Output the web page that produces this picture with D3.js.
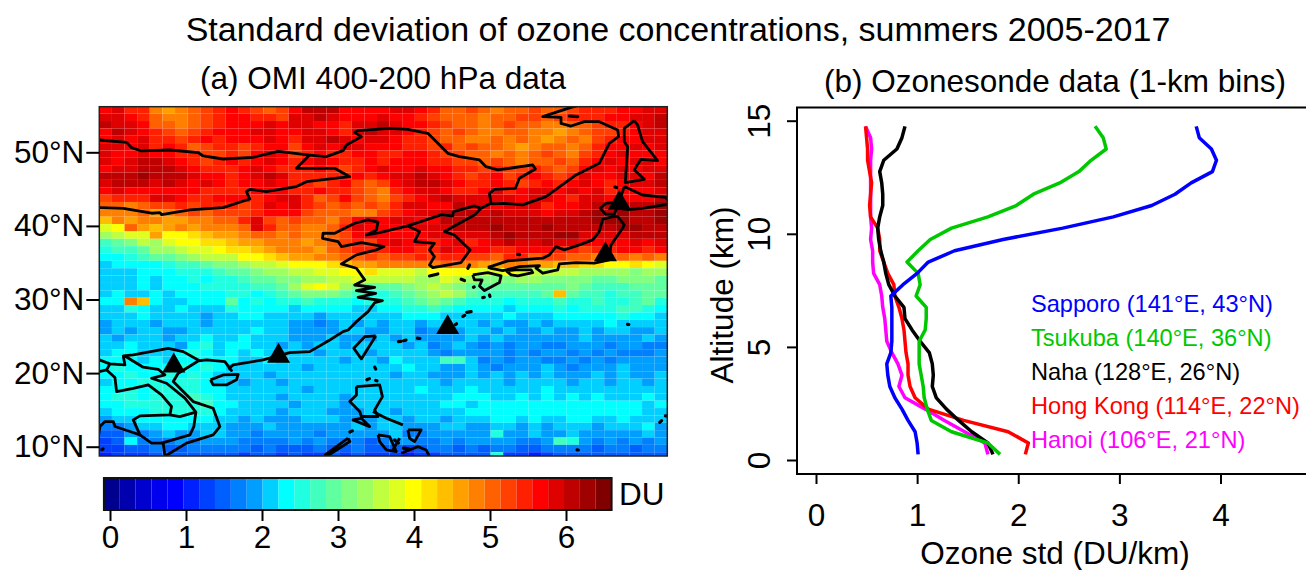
<!DOCTYPE html>
<html>
<head>
<meta charset="utf-8">
<script src="https://cdn.jsdelivr.net/npm/d3@7"></script>
<style>
  html, body { margin: 0; padding: 0; background: #fff; overflow: hidden; }
  svg { display: block; }
  text { font-family: "Liberation Sans", Arial, sans-serif; fill: #000; }
  .tick text { font-family: "Liberation Sans", Arial, sans-serif; }
</style>
</head>
<body>
<svg id="chart" width="1306" height="570"></svg>
<script>
// colour bar bins (32 levels), low to high
var jetColors = ["#00008F","#0000AF","#0000CF","#0000EF","#0000FF","#0020FF","#0040FF","#0060FF",
  "#0080FF","#009FFF","#00CFFF","#00FFFF","#20FFDF","#40FFBF","#60FF9F","#80FF80",
  "#9FFF60","#BFFF40","#DFFF20","#FFFF00","#FFDF00","#FFBF00","#FF9F00","#FF8000",
  "#FF6000","#FF4000","#FF2000","#FF0000","#DF0000","#BF0000","#9F0000","#800000"];
var duMin = -0.08, duMax = 6.6;
var duTicks = [0, 1, 2, 3, 4, 5, 6];

// OMI std, 1 deg cells, north to south, west to east.
// each char is the colour bar bin the cell falls in
var binCodes = "0123456789abcdefghijklmnopqrstuv";
var omiRows = [
"rsqqn mnopq rqpop rtttr rrrss rqoop onoop oopqq qrrss",
"ssrqo nnopq rrqqp sstsr rrsrr qpooo noopp opqqq rrsst",
"tssro onopq rrrsr ssrrq sstsr rqpoo nopoo nnoop qqrst",
"rtsrq popqr rrssr rssrq stssr qpopo nnoon nmnop pqrss",
"rsrsq qpqrq rrrsr qssts rssrq qpoon nonon mnonp qrrss",
"ssrsq rqopq qpqrr prsrs srrrq qpqop oonmn oonoq rrsrs",
"srrsr rqqpp qprsr pqrqq rrqqr rqppo onono ponpq rsrrr",
"srstt srqpq rqrsr qrsrq qrqrr rqqpp opono opoqr srssr",
"rsstt tsrqq qrsrq qqrqp qrsrr srrqq pqppq poprs rsrss",
"tttut ttsrr qrsts qqqqq rqrss tsrqp qrpqr qpqsr rssrt",
"sttts tsrsr qrrsr qqpqr poprs ttsrq qrqpq rqrsr qrsst",
"rsrrr rrrqq qqrrr qqrqq ponqr ssrqq rsqrs srsrs qrrrs",
"pqqqs srqqr rrqrs sqopr ponpq rstss sssrs srqss rrrrt",
"oonop pqpqq qpqsr sqpop opoqs srrts srsss qrrst ttttu",
"nnnom nopop ppqrr rpooo nnpqr ssttt stsss rsstu tuttu",
"lnmnn mmnno oqspo poonp rsrss rrttt ttttt ttttu uuttu",
"ijoml mnmnn nosqo onnoq srrrr ssstt tuttt utttt tuutt",
"ghiim jjklm mnoon onnop rsrrr rssss stutt tuuss ssttt",
"defhg ijjkk lmmnn nmnop qprsr rqrsq rstss tssrr rrsrs",
"cddeg ghiij kklmn nnmop qqqrr qqsrr rqqrr rqqpq qrrqr",
"bbcde efghh hjjkl mmnno opopp qpqqp poqqo ppoon oonon",
"abbbb cddef fghhi jjjkl mmnnn nnonn mmnnm mllkk jjkji",
"aaabb bcccd eefgg hhiij jkiii hjjjj iijih hhhgg ggfgg",
"aaaba bbcbc cdeef fgghh ihhhh ggihg fffgg ffffe efffe",
"aaaba bbbcc ccdde gijig feeef ghgfe eeeee eefed ddeee",
"abaab abbbb ccbcd efffe dccde fghge ddddd eledd cddee",
"bbnlb aabbb ebcbc cdccc bcccd efedc ccbcc cdccd ccdec",
"aacba abaaa cbbbb abbbb aabbc cdcbb bbabb bcbcc cddcb",
"aaaba aaa9a abbaa aa9aa aaaab bbaaa aabaa abbbb bcbba",
"9aaa9 aaa9a aaaaa 9989a 9a9aa 9aaaa 9a99a 9aaaa baaaa",
"9a9aa 99aaa aabaa 9999a a99aa 8999a a9a99 a99a9 aa99a",
"a9aaa 9aaba abaaa 999a9 99a9a 9999a 9a999 999a9 999a9",
"aabaa a9bca bbaa9 a9aa9 aaaa9 a89a9 89899 88999 89988",
"abbaa abcba babaa aa9aa a9aaa a9899 99898 99898 98889",
"bbbab abbbb baaba aaaa9 aa9ba aadda 89899 88989 89999",
"bcbbb bcbcb aaaaa a9aaa aaaab aa99a 98999 a9899 9a999",
"bbcbb cbcba aaa9a aaaaa aaa9a a999a 9a9a9 a999a 9a99a",
"abbcc bccba a9aa9 aaaaa aaaaa aa9aa aa9aa aa9aa 9aa9a",
"bbcbc cccbb aaaaa a9aaa aaaaa baaab aaaaa baaaa aaaaa",
"bccbc ccdcb aaaa9 aaaa9 aaaaa aaabb baaba babab aaaba",
"bbccc cccdb baaaa 9aaa9 aaaaa aabba bbbbb bbbbb bbbab",
"abbbc ccccb aaaa9 aaa99 9aa9a aaaab bbbbb bbbbb bbbaa",
"9aabb bbbba a9a99 9aaa9 99aa9 aa9aa abbab aabba abaaa",
"889aa bbaaa 999a9 99999 a9aa9 99aa9 9aa9a 9aaa9 aaab9",
"77989 a99aa 99899 99899 999a8 89999 9c99a 99a99 999a9",
"67b88 89899 98888 98988 87899 88989 99988 9dc98 98989",
"66778 77888 88787 77877 87776 78878 78877 88887 88788",
"56667 77777 76776 76676 76665 66777 7c665 67777 77777"
];

// coast and border lines, [lon, lat]
var borderNorth = [[100,51.67],[102.16,51.35],[102.56,50.63],[103.35,50.18],[105.59,50.31],[107.84,49.95],[108.23,49.5],[109.81,49.09],[112.19,49.32],[114.17,50.13],[116.67,49.63],[117.99,49.41],[119.31,50.22],[119.58,51],[120.76,52.12],[120.24,52.71],[120.5,52.94],[123,53.25],[124.44,53.12],[126.03,52.58],[127.61,49.86],[128.53,49.41],[130.12,48.96],[130.64,48.05],[131.57,47.6],[134.34,48.28],[134.55,47.73],[133.28,46.47],[132.97,45.11],[131.3,44.97],[130.91,44.43],[131.04,42.98]];
var borderMongolia = [[100,42.48],[101.9,42.39],[104.14,41.72],[104.8,41.81],[104.93,41.53],[107.18,42.17],[109.81,42.48],[111.92,43.66],[111.66,44.66],[111.92,44.97],[113.24,44.66],[115.62,45.34],[116.41,46.01],[119.84,46.69],[118.65,47.82],[115.62,47.82],[116.67,49.63]];
var coastChina = [[124.44,40],[122.2,39.09],[121.16,38.77],[121.95,39.45],[122.08,40.5],[121.29,40.81],[120.24,40.36],[118.65,39],[117.73,39],[117.68,38.32],[118.92,37.87],[119.18,37.19],[120.76,37.73],[122.56,37.19],[121.95,36.74],[120.37,36.06],[119.18,34.84],[120.37,34.25],[121.03,32.67],[120.24,31.97],[121.82,31.65],[120.37,31.2],[121.9,30.84],[120.5,30.3],[122.43,29.84],[121.82,29.57],[121.29,28.35],[120.37,26.99],[119.71,25.86],[119.31,25.64],[118.26,24.5],[116.67,22.92],[115.09,22.79],[112.98,21.79],[110.6,21.11],[110.29,20.66],[110.47,20.34],[109.95,21.56],[108.5,21.79],[107.83,21.65],[106.91,20.66],[106.25,19.98],[105.86,18.85],[107.44,16.13],[109.02,15.23],[109.55,12.74],[109.02,11.61],[106.91,10.48],[105.2,8.7]];
var borderSouthChina = [[107.97,21.65],[106.65,22.92],[105.46,23.37],[102.69,22.47],[101.9,22.33],[102.03,21.11],[100.84,21.25],[100,21.79]];
var borderLaosWest = [[100,20.21],[100.58,20.43],[100.84,21.25]];
var borderLaos = [[100.58,20.43],[101.24,19.39],[101.37,17.49],[102.69,17.94],[103.88,18.4],[104.93,17.04],[105.72,15.46],[105.59,14.32],[103.22,14.19],[102.69,13.65],[103.22,11.61],[104.14,10.48],[105.06,10.48],[105.2,8.7]];
var borderLaosVietnam = [[102.03,22.33],[103.48,20.8],[104.67,20.52],[105.2,19.75],[104.14,19.3],[105.33,18.62],[106.78,16.59],[107.65,14.69],[106.38,14.1],[105.59,14.32]];
var borderCambodia = [[107.65,14.69],[107.49,12.74],[107.18,11.61],[104.93,10.48]];
var coastThailand = [[99.8,10],[100.05,12.74],[100.45,13.42],[101.11,13.42],[101.24,12.74],[102.43,12.06],[103.22,11.61]];
var hainan = [[108.81,19.08],[109.81,19.75],[111,19.84],[110.87,19.08],[110.08,18.4],[109.02,18.4],[108.81,19.08]];
var taiwan = [[121.9,25.05],[121.03,24.96],[120.16,23.37],[120.76,21.93],[121.9,25.05]];
var luzon = [[120.37,18.17],[122.21,18.4],[122.43,16.81],[121.82,15],[122.08,14.1],[120.76,14.1],[120.63,14.78],[119.84,16.13],[120.37,17.04],[120.37,18.17]];
var luzonSouth = [[121.68,14.77],[122.74,13.86],[124.05,12.96]];
var mindoro = [[120.76,13.86],[121.42,12.73],[120.1,13.63],[120.76,13.86]];
var samar = [[124.45,12.28],[125.5,12.28],[124.98,10.69],[124.58,11.15],[124.45,12.28]];
var negros = [[122.08,11.6],[123,11.37],[123.53,9.34],[122.74,9.56],[122.21,10.7],[122.08,11.6]];
var cebu = [[123.79,11.15],[123.26,9.56]];
var mindanao = [[123.92,9.11],[125.24,10.01],[125.9,9.56],[126.17,8.6],[123.92,8.6]];
var palawan = [[119.7,11.15],[119.85,10.7],[118.2,8.9],[117.9,8.9],[119.7,11.15]];
var korea = [[124.44,40],[125.37,39.23],[124.97,37.87],[126.55,37.64],[126.16,36.74],[126.55,35.83],[126.16,34.7],[126.42,34.34],[128.66,35.02],[129.38,36.74],[128.14,38.77],[127.35,39.23],[129.72,41.49],[130.25,42.39],[130.91,42.98],[132.09,43.07],[133.55,42.85],[135.39,43.98],[137.77,46.92],[139.61,48.5],[140.41,51.22],[141.14,52.12],[141.07,53.03],[139.61,54.16],[138.43,54.16],[137.37,53.57],[136.58,53.93],[136.58,54.75],[135.13,54.84],[137.37,56.1],[138.5,56.6]];
var borderKorea = [[124.44,40],[127.08,41.49],[128,41.35],[128.06,41.94],[129.72,42.71],[130.25,42.39]];
var sakhalin = [[142.38,54.3],[141.59,53.25],[141.59,51.44],[141.86,50.77],[141.67,45.88],[143.18,46.33],[142.38,47.6],[142.91,49.05],[144.23,48.86],[143.04,51.44],[142.65,53.71],[142.38,54.3]];
var hokkaido = [[141.59,45.34],[143.04,44.2],[144.89,43.89],[145.2,42.98],[143.04,42.39],[141.9,42.2],[141,42.4],[140.8,41.6],[140.1,41.6],[139.7,42.4],[140.14,43.07],[141.2,43.3],[141.59,45.34]];
var honshu = [[130.78,34.38],[131.17,34.56],[132.36,35.24],[135.13,35.61],[135.66,36.06],[136.18,37.19],[136.84,36.74],[138.03,37.42],[139.09,38.1],[139.61,39.23],[139.88,40.9],[140.67,41.26],[141.07,41.26],[141.59,40.13],[141.46,39.68],[140.54,37.42],[140.41,35.38],[139.22,34.93],[137.77,35.02],[136.45,34.84],[136.32,34.02],[135.13,33.57],[134.6,34.25],[134.87,34.6],[133.29,34.47],[131.97,33.92],[131.04,34.24],[130.78,34.38]];
var shikoku = [[132.23,33.92],[132.63,33.34],[133.15,33.2],[134.34,33.65],[134.21,34.02],[133.02,34.02],[132.23,33.92]];
var kyushu = [[129.59,33.34],[130.78,33.65],[131.83,33.2],[131.7,32.3],[130.52,31.21],[130.12,31.84],[130.33,32.66],[129.72,32.66],[129.59,33.34]];
var coastLines = [borderNorth, borderMongolia, coastChina, borderSouthChina, borderLaosWest, borderLaos,
  borderLaosVietnam, borderCambodia, coastThailand, hainan, taiwan, luzon, luzonSouth, mindoro, samar,
  negros, cebu, mindanao, palawan, korea, borderKorea, sakhalin, hokkaido, honshu, shikoku, kyushu];

// little islands, short strokes
var islets = [
  [[126.16,33.2],[126.82,33.47]], [[129.2,34.24],[129.33,34.69]], [[128.67,32.75],[128.93,32.57]],
  [[129.64,31.66],[129.7,31.7]], [[130.38,30.26],[130.5,30.3]], [[130.91,30.62],[130.95,30.4]],
  [[133.15,36.14],[133.3,36.1]], [[129.11,28.26],[129.46,28.35]], [[128.8,27.7],[128.95,27.85]],
  [[128.2,26.6],[128.3,26.7]], [[125.2,24.75],[125.4,24.7]], [[123.7,24.28],[123.9,24.3]],
  [[124.1,24.4],[124.3,24.48]], [[141.85,26.63],[141.95,26.6]], [[137.85,9.57],[137.95,9.55]],
  [[144.4,13.3],[144.55,13.55]], [[144.85,14.2],[144.95,14.18]], [[121.82,20.8],[121.9,20.55]],
  [[121.2,19.1],[121.4,19.25]], [[121.9,19],[122,18.95]], [[119.85,12],[120.05,12.15]],
  [[100.2,9.6],[100.3,9.7]], [[137.24,54.93],[137.9,54.84]], [[140.85,45.28],[141,45.2]],
  [[123.4,10.9],[123.7,10.5]], [[124.1,9.8],[124.5,9.7]]
];

var stationNames = ["Hanoi (106°E, 21°N)", "Hong Kong (114°E, 22°N)", "Naha (128°E, 26°N)", "Tsukuba (140°E, 36°N)", "Sapporo (141°E, 43°N)"];
var stationLon = [105.9, 114.2, 127.6, 140.1, 141.2];
var stationLat = [21, 22.3, 26.2, 36.1, 43.1];
var stationColors = ["#ff00ff", "#ff0000", "#000000", "#00c800", "#0000ff"];
var legendOrder = [4, 3, 2, 1, 0];

// ozonesonde profiles, bottom to top
var altitudes = [0.25,0.75,1.25,1.75,2.25,2.75,3.25,3.75,4.25,4.75,5.25,5.75,6.25,6.75,7.25,7.75,8.25,8.75,9.25,9.75,10.25,10.75,11.25,11.75,12.25,12.75,13.25,13.75,14.25,14.75];
var hanoiStd = [1.70,1.67,1.47,1.27,1.08,0.88,0.82,0.85,0.81,0.75,0.70,0.69,0.68,0.66,0.65,0.63,0.57,0.56,0.56,0.54,0.55,0.54,0.54,0.54,0.54,0.54,0.54,0.55,0.54,0.49];
var hongKongStd = [2.07,2.10,1.90,1.46,1.11,0.98,0.93,0.91,0.91,0.89,0.88,0.87,0.85,0.82,0.78,0.77,0.71,0.67,0.63,0.63,0.61,0.54,0.53,0.54,0.55,0.53,0.51,0.51,0.50,0.49];
var nahaStd = [1.75,1.70,1.54,1.41,1.29,1.19,1.15,1.16,1.15,1.12,1.03,0.95,0.88,0.87,0.78,0.72,0.69,0.67,0.64,0.62,0.61,0.63,0.66,0.66,0.65,0.63,0.67,0.80,0.85,0.88];
var tsukubaStd = [1.82,1.70,1.34,1.14,1.10,1.07,1.06,1.04,1.02,1.02,1.02,1.08,1.09,1.09,0.99,1.03,1.01,0.90,1.01,1.13,1.34,1.70,1.98,2.15,2.41,2.60,2.72,2.87,2.84,2.76];
var sapporoStd = [1.01,1.00,0.98,0.91,0.85,0.78,0.73,0.71,0.70,0.74,0.75,0.75,0.75,0.75,0.74,0.86,1.00,1.11,1.37,1.85,2.44,2.94,3.32,3.55,3.71,3.92,3.96,3.91,3.79,3.76];
var stationStd = [hanoiStd, hongKongStd, nahaStd, tsukubaStd, sapporoStd];

var latTicks = [10, 20, 30, 40, 50];
var stdTicks = [0, 1, 2, 3, 4];
var altTicks = [0, 5, 10, 15];

var width = 1306, height = 570;
var svg = d3.select("#chart");
var fontSize = 31.5;

// titles
svg.append("text").attr("x", 678).attr("y", 41).attr("text-anchor", "middle")
  .style("font-size", "34px").text("Standard deviation of ozone concentrations, summers 2005-2017");
svg.append("text").attr("x", 383).attr("y", 89).attr("text-anchor", "middle")
  .style("font-size", fontSize + "px").text("(a) OMI 400-200 hPa data");
svg.append("text").attr("x", 1055).attr("y", 92).attr("text-anchor", "middle")
  .style("font-size", fontSize + "px").text("(b) Ozonesonde data (1-km bins)");

// ---- panel (a) map
var box = {left: 99.3, right: 667.3, top: 106.7, bottom: 456};
var lon = d3.scaleLinear().domain([100, 145]).range([box.left, box.right]);
var lat = d3.scaleLinear().domain([10, 50]).range([446.7, 152.3]);

var binWidth = (duMax - duMin) / jetColors.length;
var duColor = d3.scaleQuantize().domain([duMin, duMax]).range(jetColors);

// decode rows into cells
var cells = [];
omiRows.forEach(function(row, i) {
  var codes = row.replace(/ /g, "");
  for (var j = 0; j < 45; j++) {
    var bin = binCodes.indexOf(codes.charAt(j));
    cells.push({west: 100 + j, north: 56.25 - i, du: duMin + (bin + 0.5) * binWidth});
  }
});

svg.append("defs").append("clipPath").attr("id", "mapClip").append("rect")
  .attr("x", box.left).attr("y", box.top)
  .attr("width", box.right - box.left).attr("height", box.bottom - box.top);

var map = svg.append("g").attr("clip-path", "url(#mapClip)");

map.selectAll("rect.cell")
  .data(cells)
  .enter()
  .append("rect")
  .attr("class", "cell")
  .attr("x", d => lon(d.west))
  .attr("y", d => lat(d.north))
  .attr("width", lon(1) - lon(0))
  .attr("height", lat(0) - lat(1))
  .style("fill", d => duColor(d.du));

var coastPath = d3.line().x(d => lon(d[0])).y(d => lat(d[1]));

map.selectAll("path.coast")
  .data(coastLines)
  .enter()
  .append("path")
  .attr("class", "coast")
  .attr("d", coastPath)
  .style("fill", "none")
  .style("stroke", "#000")
  .style("stroke-width", 2.8)
  .style("stroke-linejoin", "round");

map.selectAll("path.islet")
  .data(islets)
  .enter()
  .append("path")
  .attr("class", "islet")
  .attr("d", coastPath)
  .style("fill", "none")
  .style("stroke", "#000")
  .style("stroke-width", 3.2)
  .style("stroke-linecap", "round");

// site triangles
map.selectAll("path.site")
  .data(stationLon)
  .enter()
  .append("path")
  .attr("class", "site")
  .attr("d", d3.symbol().type(d3.symbolTriangle).size(230))
  .attr("transform", (d, i) => "translate(" + lon(d) + "," + lat(stationLat[i]) + ")")
  .style("fill", "#000");

svg.append("rect")
  .attr("x", box.left).attr("y", box.top)
  .attr("width", box.right - box.left).attr("height", box.bottom - box.top)
  .style("fill", "none").style("stroke", "#222").style("stroke-width", 1.5);

// latitude axis
var latAxis = d3.axisLeft(lat)
  .tickValues(latTicks)
  .tickFormat(d => d + "°N")
  .tickSizeInner(13)
  .tickSizeOuter(0)
  .tickPadding(2);
svg.append("g")
  .attr("transform", "translate(" + box.left + ",0)")
  .call(latAxis)
  .call(g => g.select(".domain").remove())
  .call(g => g.selectAll("line").style("stroke-width", 2))
  .call(g => g.selectAll("text").style("font-size", fontSize + "px"));

// ---- colour bar
var barTop = 478, barBottom = 510;
var duScale = d3.scaleLinear().domain([0, 6]).range([110, 566]);
var barBins = jetColors.map((c, i) => duMin + i * binWidth);

svg.selectAll("rect.bar")
  .data(barBins)
  .enter()
  .append("rect")
  .attr("class", "bar")
  .attr("x", d => duScale(d))
  .attr("y", barTop)
  .attr("width", duScale(binWidth) - duScale(0))
  .attr("height", barBottom - barTop)
  .style("fill", d => duColor(d + binWidth / 2));

svg.append("rect")
  .attr("x", duScale(duMin)).attr("y", barTop)
  .attr("width", duScale(duMax) - duScale(duMin)).attr("height", barBottom - barTop)
  .style("fill", "none").style("stroke", "#111").style("stroke-width", 2);

var duAxis = d3.axisBottom(duScale)
  .tickValues(duTicks)
  .tickFormat(d3.format("d"))
  .tickSizeInner(11)
  .tickSizeOuter(0)
  .tickPadding(5);
svg.append("g")
  .attr("transform", "translate(0," + barBottom + ")")
  .call(duAxis)
  .call(g => g.select(".domain").remove())
  .call(g => g.selectAll("line").style("stroke-width", 2))
  .call(g => g.selectAll("text").style("font-size", fontSize + "px"));

svg.append("text").attr("x", 619).attr("y", 505)
  .style("font-size", fontSize + "px").text("DU");

// ---- panel (b) profiles
var plot = {left: 797, right: 1310, top: 107.5, bottom: 474};
var x = d3.scaleLinear().domain([0, 4]).range([816, 1220.5]);
var y = d3.scaleLinear().domain([0, 15]).range([460, 120.7]);

svg.append("path")
  .attr("d", d3.line()([[plot.right, plot.top], [plot.left, plot.top], [plot.left, plot.bottom], [plot.right, plot.bottom]]))
  .style("fill", "none").style("stroke", "#000").style("stroke-width", 2);

var xAxis = d3.axisBottom(x)
  .tickValues(stdTicks)
  .tickFormat(d3.format("d"))
  .tickSizeInner(10)
  .tickSizeOuter(0)
  .tickPadding(20);
svg.append("g")
  .attr("transform", "translate(0," + plot.bottom + ")")
  .call(xAxis)
  .call(g => g.select(".domain").remove())
  .call(g => g.selectAll("line").style("stroke-width", 2))
  .call(g => g.selectAll("text").style("font-size", fontSize + "px"));

var yAxis = d3.axisLeft(y)
  .tickValues(altTicks)
  .tickFormat(d3.format("d"))
  .tickSizeInner(10)
  .tickSizeOuter(0)
  .tickPadding(0);
svg.append("g")
  .attr("transform", "translate(" + plot.left + ",0)")
  .call(yAxis)
  .call(g => g.select(".domain").remove())
  .call(g => g.selectAll("line").style("stroke-width", 2))
  .call(g => g.selectAll("text")
    .attr("x", null).attr("dy", null)
    .attr("text-anchor", "middle")
    .attr("transform", "translate(-27,0) rotate(-90)")
    .style("font-size", fontSize + "px"));

svg.append("text")
  .attr("transform", "translate(733,295) rotate(-90)")
  .attr("text-anchor", "middle")
  .style("font-size", fontSize + "px")
  .text("Altitude (km)");

svg.append("text")
  .attr("x", 1055).attr("y", 564).attr("text-anchor", "middle")
  .style("font-size", fontSize + "px")
  .text("Ozone std (DU/km)");

var profile = d3.line()
  .x(d => x(d[0]))
  .y(d => y(d[1]));

svg.selectAll("path.profile")
  .data(stationStd)
  .enter()
  .append("path")
  .attr("class", "profile")
  .attr("d", d => profile(d.map((v, i) => [v, altitudes[i]])))
  .style("fill", "none")
  .style("stroke", (d, i) => stationColors[i])
  .style("stroke-width", 3.5)
  .style("stroke-linejoin", "round");

// station labels
var legendY = d3.scalePoint().domain(legendOrder).range([312, 448]);
svg.selectAll("text.station")
  .data(legendOrder)
  .enter()
  .append("text")
  .attr("class", "station")
  .attr("x", 1031)
  .attr("y", d => legendY(d))
  .style("font-size", "23.6px")
  .style("fill", d => stationColors[d])
  .text(d => stationNames[d]);
</script>
</body>
</html>
